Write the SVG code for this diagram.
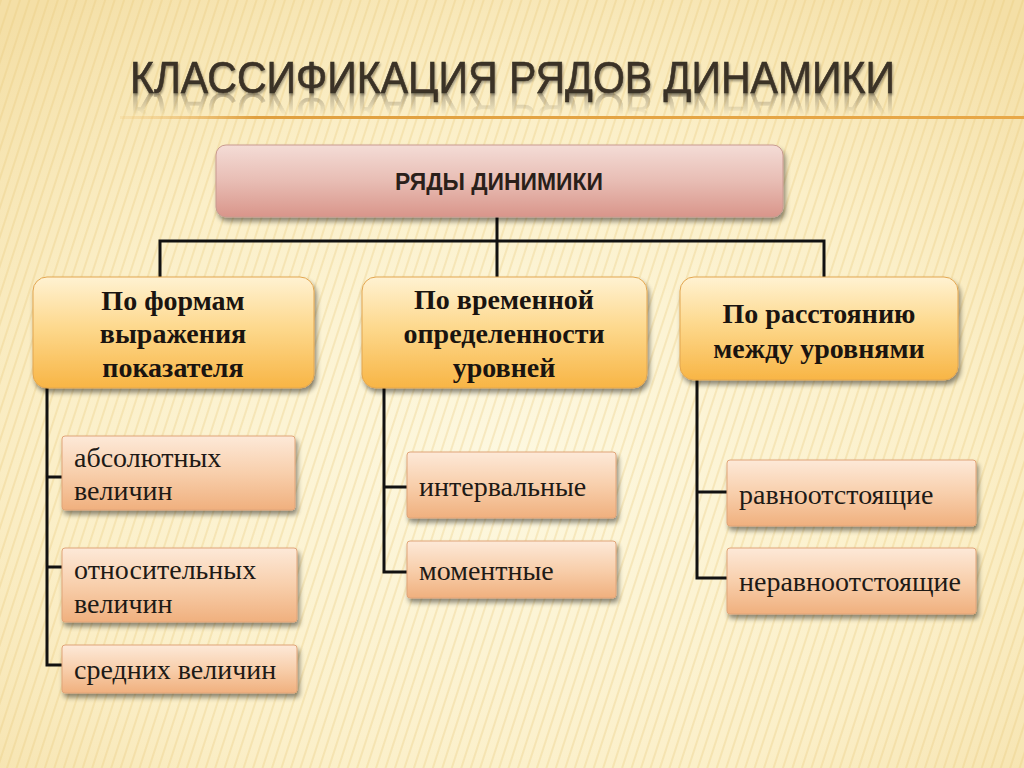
<svg xmlns="http://www.w3.org/2000/svg" width="1024" height="768" viewBox="0 0 1024 768">
  <defs>
    <radialGradient id="bg" cx="0.5" cy="0.6" r="0.75">
      <stop offset="0" stop-color="#fdf8e0"/>
      <stop offset="0.6" stop-color="#fbefc8"/>
      <stop offset="1" stop-color="#f4dfa6"/>
    </radialGradient>
    <pattern id="stripes" width="9" height="9" patternUnits="userSpaceOnUse" patternTransform="rotate(18)">
      <rect x="0" y="0" width="2" height="9" fill="#e8c878" opacity="0.3"/>
    </pattern>
    <linearGradient id="rule" x1="0" y1="0" x2="1" y2="0">
      <stop offset="0" stop-color="#f0c070" stop-opacity="0.2"/>
      <stop offset="0.15" stop-color="#e0a040"/>
      <stop offset="1" stop-color="#e8a848"/>
    </linearGradient>
    <linearGradient id="gTop" x1="0" y1="0" x2="0" y2="1">
      <stop offset="0" stop-color="#f4dcd6"/>
      <stop offset="0.5" stop-color="#e8bdb4"/>
      <stop offset="1" stop-color="#d9958a"/>
    </linearGradient>
    <linearGradient id="gMid" x1="0" y1="0" x2="0" y2="1">
      <stop offset="0" stop-color="#fff2d2"/>
      <stop offset="0.45" stop-color="#fdd98e"/>
      <stop offset="1" stop-color="#f8b545"/>
    </linearGradient>
    <linearGradient id="gLeaf" x1="0" y1="0" x2="0" y2="1">
      <stop offset="0" stop-color="#fde9d8"/>
      <stop offset="0.5" stop-color="#f8cfac"/>
      <stop offset="1" stop-color="#f0b07e"/>
    </linearGradient>
    <linearGradient id="fade" x1="0" y1="0" x2="0" y2="1">
      <stop offset="0" stop-color="#fff" stop-opacity="0.55"/>
      <stop offset="1" stop-color="#fff" stop-opacity="0"/>
    </linearGradient>
    <mask id="reflMask" maskUnits="userSpaceOnUse" x="0" y="93" width="1024" height="26">
      <rect x="0" y="93" width="1024" height="22" fill="url(#fade)"/>
    </mask>
    <filter id="shadow" x="-10%" y="-10%" width="125%" height="135%">
      <feGaussianBlur in="SourceAlpha" stdDeviation="2.5"/>
      <feOffset dx="2" dy="4" result="b"/>
      <feComponentTransfer><feFuncA type="linear" slope="0.45"/></feComponentTransfer>
      <feMerge><feMergeNode/><feMergeNode in="SourceGraphic"/></feMerge>
    </filter>
    <filter id="tshadow" x="-5%" y="-20%" width="110%" height="150%">
      <feGaussianBlur in="SourceAlpha" stdDeviation="1"/>
      <feOffset dx="1" dy="2"/>
      <feComponentTransfer><feFuncA type="linear" slope="0.35"/></feComponentTransfer>
      <feMerge><feMergeNode/><feMergeNode in="SourceGraphic"/></feMerge>
    </filter>
    <style>
      .title{font-family:"Liberation Sans",Arial,sans-serif;font-size:45px;fill:#3a3126;stroke:#3a3126;stroke-width:0.6;}
      .topbox{fill:url(#gTop);stroke:#c89a90;stroke-width:1;filter:url(#shadow);}
      .midbox{fill:url(#gMid);stroke:#e2a650;stroke-width:1;filter:url(#shadow);}
      .leaf{fill:url(#gLeaf);stroke:#e0a478;stroke-width:1;filter:url(#shadow);}
      .toptxt{font-family:"Liberation Sans",Arial,sans-serif;font-weight:bold;font-size:24px;fill:#2a1f1a;text-anchor:middle;}
      .midtxt{font-family:"Liberation Serif","Times New Roman",serif;font-weight:bold;font-size:28px;fill:#1a1410;text-anchor:middle;}
      .leaftxt{font-family:"Liberation Serif","Times New Roman",serif;font-size:28px;fill:#1e1a16;}
      .conn{stroke:#111;stroke-width:3;fill:none;stroke-linecap:square;}
    </style>
  </defs>

  <rect width="1024" height="768" fill="url(#bg)"/>
  <rect width="1024" height="768" fill="url(#stripes)"/>

  <g id="title">
    <text class="title" x="130" y="93" textLength="765" lengthAdjust="spacingAndGlyphs" filter="url(#tshadow)">КЛАССИФИКАЦИЯ РЯДОВ ДИНАМИКИ</text>
    <g mask="url(#reflMask)">
      <text class="title" x="130" y="93" textLength="765" lengthAdjust="spacingAndGlyphs" transform="translate(0,186) scale(1,-1)" opacity="0.6">КЛАССИФИКАЦИЯ РЯДОВ ДИНАМИКИ</text>
    </g>
    <rect x="120" y="116" width="904" height="3" fill="url(#rule)"/>
  </g>

  <g id="connectors">
    <path class="conn" d="M497,217 V277 M160,241 H824 M160,241 V277 M824,241 V277"/>
    <path class="conn" d="M47,388 V665 M47,477 H62 M47,567 H62 M47,665 H62"/>
    <path class="conn" d="M384,388 V572 M384,487 H407 M384,572 H407"/>
    <path class="conn" d="M697,380 V578 M697,492 H727 M697,578 H727"/>
  </g>

  <g id="root">
    <rect class="topbox" x="216" y="145" width="567" height="72" rx="10"/>
    <text class="toptxt" x="499" y="190" textLength="208" lengthAdjust="spacingAndGlyphs">РЯДЫ ДИНИМИКИ</text>
  </g>

  <g id="by-form">
    <rect class="midbox" x="33" y="277" width="281" height="111" rx="14"/>
    <text class="midtxt" x="173" y="310">По формам</text>
    <text class="midtxt" x="173" y="343">выражения</text>
    <text class="midtxt" x="173" y="377">показателя</text>
  </g>
  <g id="by-time">
    <rect class="midbox" x="362" y="277" width="285" height="111" rx="14"/>
    <text class="midtxt" x="504" y="309">По временной</text>
    <text class="midtxt" x="504" y="343">определенности</text>
    <text class="midtxt" x="504" y="377">уровней</text>
  </g>
  <g id="by-distance">
    <rect class="midbox" x="680" y="277" width="278" height="103" rx="14"/>
    <text class="midtxt" x="819" y="323">По расстоянию</text>
    <text class="midtxt" x="819" y="358">между уровнями</text>
  </g>

  <g id="absolute">
    <rect class="leaf" x="62" y="436" width="233" height="74" rx="3"/>
    <text class="leaftxt" x="74" y="467">абсолютных</text>
    <text class="leaftxt" x="74" y="500">величин</text>
  </g>
  <g id="relative">
    <rect class="leaf" x="62" y="548" width="235" height="74" rx="3"/>
    <text class="leaftxt" x="74" y="579">относительных</text>
    <text class="leaftxt" x="74" y="613">величин</text>
  </g>
  <g id="average">
    <rect class="leaf" x="62" y="645" width="235" height="48" rx="3"/>
    <text class="leaftxt" x="74" y="679">средних величин</text>
  </g>
  <g id="interval">
    <rect class="leaf" x="407" y="452" width="209" height="66" rx="3"/>
    <text class="leaftxt" x="419" y="496">интервальные</text>
  </g>
  <g id="moment">
    <rect class="leaf" x="407" y="541" width="209" height="57" rx="3"/>
    <text class="leaftxt" x="419" y="580">моментные</text>
  </g>
  <g id="equal">
    <rect class="leaf" x="727" y="460" width="249" height="66" rx="3"/>
    <text class="leaftxt" x="739" y="504">равноотстоящие</text>
  </g>
  <g id="unequal">
    <rect class="leaf" x="727" y="548" width="249" height="66" rx="3"/>
    <text class="leaftxt" x="739" y="591">неравноотстоящие</text>
  </g>
</svg>
